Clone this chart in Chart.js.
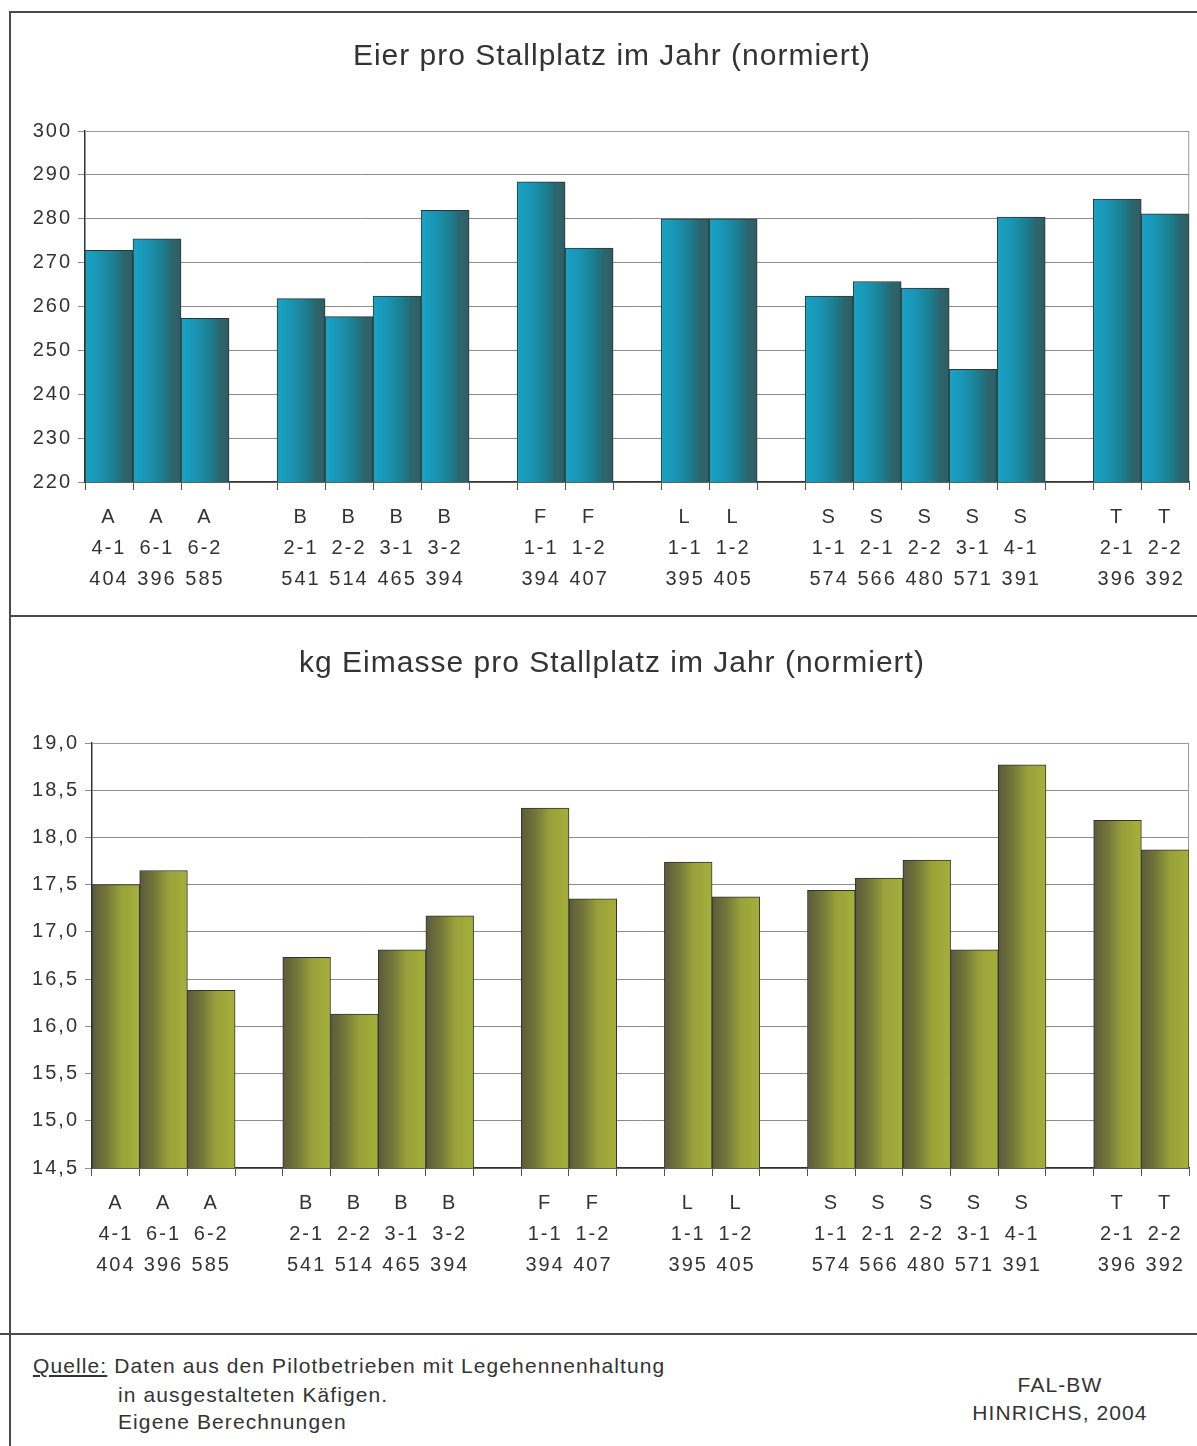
<!DOCTYPE html>
<html>
<head>
<meta charset="utf-8">
<script src="https://cdn.jsdelivr.net/npm/chart.js@4"></script>
<style>
  html, body { margin:0; padding:0; background:#fff; }
  body { width:1197px; height:1446px; position:relative; overflow:hidden; font-family:"Liberation Sans", Arial, sans-serif; color:#333; }
  .ln { position:absolute; background:#4a4a4a; }
  .box { position:absolute; }
  .foot { position:absolute; font-size:21px; letter-spacing:1.1px; color:#333; white-space:nowrap; }
</style>
</head>
<body>
<div class="ln" style="left:10px;top:11px;width:1187px;height:2px;"></div>
<div class="ln" style="left:9px;top:11px;width:2px;height:1435px;"></div>
<div class="ln" style="left:9px;top:615px;width:1188px;height:2px;"></div>
<div class="ln" style="left:0px;top:1333px;width:1197px;height:2px;"></div>

<div class="box" style="left:11px;top:13px;width:1186px;height:602px;"><canvas id="c1"></canvas></div>
<div class="box" style="left:11px;top:617px;width:1186px;height:716px;"><canvas id="c2"></canvas></div>

<div class="foot" style="left:33px;top:1354px;"><span style="text-decoration:underline;">Quelle:</span> Daten aus den Pilotbetrieben mit Legehennenhaltung</div>
<div class="foot" style="left:118px;top:1383px;">in ausgestalteten Käfigen.</div>
<div class="foot" style="left:118px;top:1410px;">Eigene Berechnungen</div>
<div class="foot" style="left:940px;top:1373px;width:240px;text-align:center;">FAL-BW</div>
<div class="foot" style="left:940px;top:1401px;width:240px;text-align:center;">HINRICHS, 2004</div>

<script>
// ---- data ----
const groups  = ['A','A','A','','B','B','B','B','','F','F','','L','L','','S','S','S','S','S','','T','T'];
const codes   = ['4-1','6-1','6-2','','2-1','2-2','3-1','3-2','','1-1','1-2','','1-1','1-2','','1-1','2-1','2-2','3-1','4-1','','2-1','2-2'];
const places  = ['404','396','585','','541','514','465','394','','394','407','','395','405','','574','566','480','571','391','','396','392'];
const eggs    = [272.8, 275.4, 257.3, null, 261.8, 257.7, 262.4, 281.9, null, 288.4, 273.3, null, 280.0, 280.0, null, 262.4, 265.7, 264.2, 245.7, 280.4, null, 284.5, 281.1];
const eggMass = [17.50, 17.65, 16.38, null, 16.73, 16.13, 16.81, 17.17, null, 18.31, 17.35, null, 17.74, 17.37, null, 17.44, 17.57, 17.76, 16.81, 18.77, null, 18.18, 17.87];
const title1 = 'Eier pro Stallplatz im Jahr (normiert)';
const title2 = 'kg Eimasse pro Stallplatz im Jahr (normiert)';

const labels = groups.map((g, i) => g ? [g, codes[i], places[i]] : ['', '', '']);

const FONT = '"Liberation Sans", Arial, sans-serif';
const TXT = '#333333';

function gradientFill(stops, fallback) {
  return (ctx) => {
    const chart = ctx.chart;
    const xs = chart.scales && chart.scales.x;
    if (!xs || !chart.chartArea || ctx.dataIndex === undefined) return fallback;
    const c = xs.getPixelForValue(ctx.dataIndex);
    const w = xs.width / labels.length;
    const g = chart.ctx.createLinearGradient(c - w / 2, 0, c + w / 2, 0);
    stops.forEach(s => g.addColorStop(s[0], s[1]));
    return g;
  };
}

const frame = {
  id: 'frame',
  beforeDatasetsDraw(chart) {
    const a = chart.chartArea, ctx = chart.ctx;
    ctx.save();
    ctx.strokeStyle = '#9a9a9a';
    ctx.lineWidth = 1;
    ctx.beginPath();
    ctx.moveTo(a.left, a.top + 0.5);
    ctx.lineTo(a.right - 0.5, a.top + 0.5);
    ctx.lineTo(a.right - 0.5, a.bottom);
    ctx.stroke();
    ctx.restore();
  }
};

const spacing = {
  id: 'spacing',
  beforeInit(chart) { chart.ctx.letterSpacing = '2px'; },
  beforeUpdate(chart) { chart.ctx.letterSpacing = '2px'; },
  beforeDraw(chart) { chart.ctx.letterSpacing = '2px'; }
};

// title drawn on the canvas with its own letter spacing
const chartTitle = {
  id: 'chartTitle',
  afterDraw(chart, args, opts) {
    const ctx = chart.ctx;
    ctx.save();
    ctx.letterSpacing = opts.spacing;
    ctx.font = 'normal ' + opts.size + 'px ' + FONT;
    ctx.fillStyle = TXT;
    ctx.textAlign = 'center';
    ctx.textBaseline = 'alphabetic';
    ctx.fillText(opts.text, opts.x, opts.y);
    ctx.restore();
  }
};

function makeChart(id, data, title, titleY, yMin, yMax, step, fmt, stops, fallback, leftW, padTop, padBottom) {
  return new Chart(document.getElementById(id), {
    type: 'bar',
    data: {
      labels: labels,
      datasets: [{
        data: data,
        backgroundColor: gradientFill(stops, fallback),
        borderColor: '#2e3434',
        borderWidth: 1,
        borderSkipped: 'bottom',
        categoryPercentage: 1.0,
        barPercentage: 1.0
      }]
    },
    options: {
      responsive: true,
      maintainAspectRatio: false,
      animation: false,
      devicePixelRatio: 1,
      layout: { padding: { left: 0, right: 4, top: padTop, bottom: padBottom } },
      plugins: {
        legend: { display: false },
        tooltip: { enabled: false },
        title: { display: false },
        chartTitle: { text: title, size: 30, spacing: '1px', x: 601, y: titleY }
      },
      scales: {
        x: {
          offset: true,
          grid: { display: true, drawOnChartArea: false, drawTicks: true, tickLength: 8, offset: true, color: '#555' },
          border: { display: true, color: '#333', width: 1.5 },
          ticks: {
            color: TXT,
            autoSkip: false,
            maxRotation: 0,
            padding: 12,
            font: { family: FONT, size: 20, lineHeight: 1.55 }
          }
        },
        y: {
          min: yMin, max: yMax,
          afterFit: (s) => { s.width = leftW; },
          grid: { color: '#8c8c8c', lineWidth: 1, drawTicks: true, tickLength: 7 },
          border: { display: true, color: '#333', width: 1.5 },
          ticks: {
            stepSize: step,
            color: TXT,
            padding: 6,
            font: { family: FONT, size: 20 },
            callback: fmt
          }
        }
      }
    },
    plugins: [frame, spacing, chartTitle]
  });
}

makeChart('c1', eggs, title1, 52, 220, 300, 10, (v) => String(v),
  [[0, '#19a2c6'], [0.3, '#1895b3'], [0.6, '#1b7f8e'], [0.8, '#2a6670'], [1, '#305d62']], '#1a8fa8', 74,
  118, 8);

makeChart('c2', eggMass, title2, 55, 14.5, 19.0, 0.5, (v) => v.toFixed(1).replace('.', ','), 
  [[0, '#5c5a3b'], [0.3, '#747639'], [0.6, '#98a03a'], [1, '#a7af3a']], '#8e943a', 81,
  126, 40);
</script>
</body>
</html>
